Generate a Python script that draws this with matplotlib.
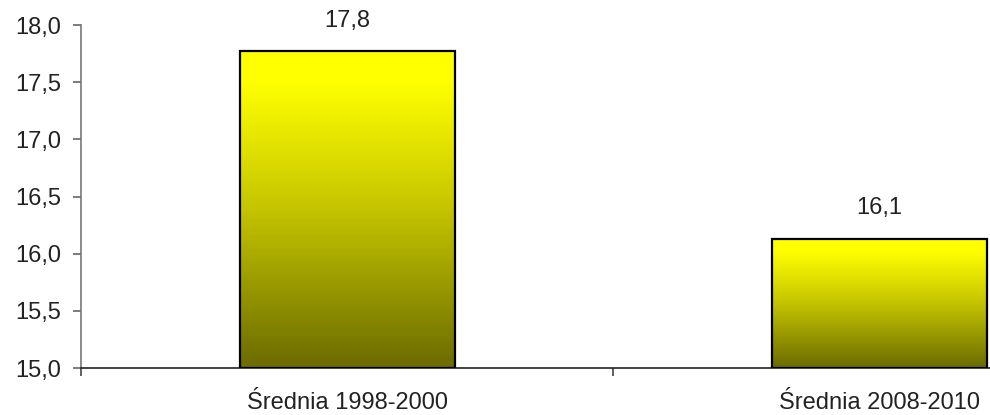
import matplotlib
matplotlib.use("Agg")
import matplotlib.pyplot as plt
import numpy as np
from matplotlib.colors import LinearSegmentedColormap

categories = ["Średnia 1998-2000", "Średnia 2008-2010"]
values = [17.77, 16.13]
value_labels = ["17,8", "16,1"]
yticks = [15.0, 15.5, 16.0, 16.5, 17.0, 17.5, 18.0]
ytick_labels = ["15,0", "15,5", "16,0", "16,5", "17,0", "17,5", "18,0"]

plt.rcParams['font.family'] = ['Liberation Sans', 'DejaVu Sans']

fig = plt.figure(figsize=(9.9, 4.15), dpi=100)
ax = fig.add_axes([0.0818, 0.113, 1.075, 0.8265])

ymin, ymax = 15.0, 18.0
x = np.arange(len(categories))
width = 0.404
bars = ax.bar(x, [v - ymin for v in values], bottom=ymin, width=width,
              facecolor='none', edgecolor='black', linewidth=1.6, zorder=3)

cmap = LinearSegmentedColormap.from_list(
    "yo", [(0.0, "#6b6b00"), (0.5, "#c4c400"), (0.9, "#ffff00"), (1.0, "#ffff00")])
grad = np.linspace(0, 1, 256).reshape(-1, 1)
for b in bars:
    x0, y0 = b.get_x(), b.get_y()
    w, h = b.get_width(), b.get_height()
    im = ax.imshow(grad, extent=[x0, x0 + w, y0, y0 + h], origin='lower',
                   cmap=cmap, aspect='auto', zorder=2)
    im.set_clip_path(b)

for xi, v, lab in zip(x, values, value_labels):
    ax.annotate(lab, (xi, v), xytext=(0, 14), textcoords='offset points',
                ha='center', va='bottom', fontsize=17, color='#222222')

ax.set_xlim(-0.5, 1.5)
ax.set_ylim(ymin, ymax)
ax.set_yticks(yticks)
ax.set_yticklabels(ytick_labels)
ax.set_xticks(x)
ax.set_xticklabels(categories)
ax.set_xticks([-0.5, 0.5, 1.5], minor=True)
ax.tick_params(axis='x', which='major', length=0, pad=17, labelsize=17, colors='#222222')
ax.tick_params(axis='x', which='minor', length=6, width=1.2, color='#444444')
ax.tick_params(axis='y', length=6, width=1.2, pad=8, labelsize=17, colors='#222222')
ax.tick_params(axis='y', color='#666666')

for s in ['top', 'right']:
    ax.spines[s].set_visible(False)
ax.spines['left'].set_color('#777777')
ax.spines['left'].set_linewidth(1.2)
ax.spines['bottom'].set_color('#222222')
ax.spines['bottom'].set_linewidth(1.2)

fig.savefig("out.png", dpi=100)
